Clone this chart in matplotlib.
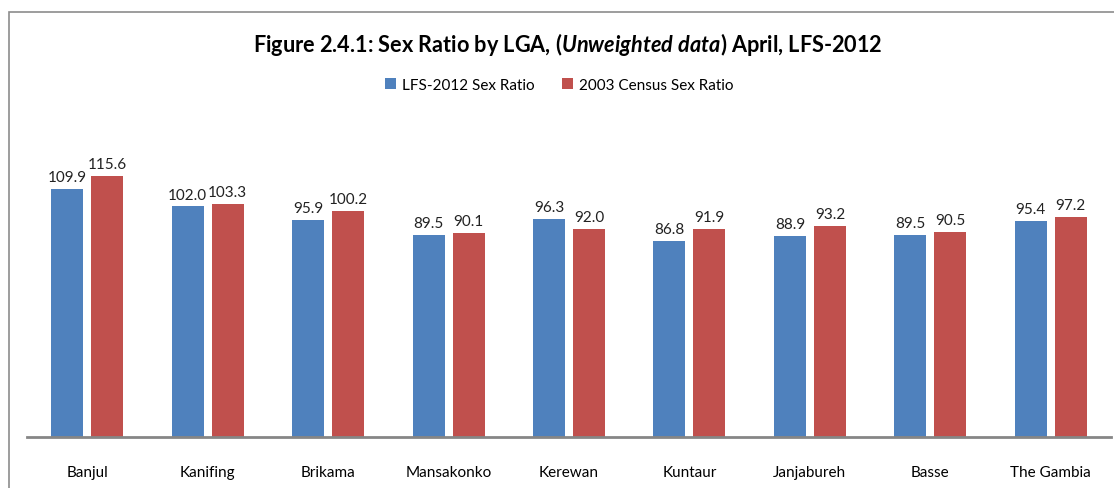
import matplotlib.pyplot as plt
import numpy as np
from matplotlib.patches import Rectangle

# Sex ratio by LGA
lgas = ["Banjul", "Kanifing", "Brikama", "Mansakonko", "Kerewan",
        "Kuntaur", "Janjabureh", "Basse", "The Gambia"]
lfs_2012 = [109.9, 102.0, 95.9, 89.5, 96.3, 86.8, 88.9, 89.5, 95.4]
census_2003 = [115.6, 103.3, 100.2, 90.1, 92.0, 91.9, 93.2, 90.5, 97.2]
series_names = ["LFS-2012 Sex Ratio", "2003 Census Sex Ratio"]

plt.rcParams['font.family'] = ['Lato', 'DejaVu Sans']
plt.rcParams['mathtext.fontset'] = 'custom'
plt.rcParams['mathtext.it'] = 'Lato:italic:bold'
plt.rcParams['mathtext.rm'] = 'Lato:bold'

W, H = 1114, 489
fig = plt.figure(figsize=(W / 100, H / 100), dpi=100)

# outer chart frame (cut off on the right and bottom like the reference)
fig.patches.append(Rectangle((9 / W, -0.1), 1.2, 1 - 13 / H + 0.1,
                             transform=fig.transFigure, fill=False,
                             edgecolor="#8c8c8c", linewidth=1.2))

ax = fig.add_axes([27 / W, 1 - 438 / H, (1111 - 27) / W, (438 - 100) / H])

x = np.arange(len(lgas))
w = 0.266
off = 0.166
b1 = ax.bar(x - off, lfs_2012, w, color="#4F81BD", label=series_names[0])
b2 = ax.bar(x + off, census_2003, w, color="#C0504D", label=series_names[1])

for bars, vals in ((b1, lfs_2012), (b2, census_2003)):
    for rect, v in zip(bars, vals):
        ax.text(rect.get_x() + rect.get_width() / 2, v + 2.2, f"{v:.1f}",
                ha="center", va="bottom", fontsize=11, color="#222222")

ax.set_xlim(-0.5, len(lgas) - 0.5)
ax.set_ylim(0, (438 - 100) / 2.26)
ax.set_xticks(x)
ax.set_xticklabels(lgas, fontsize=11)
ax.tick_params(axis="x", length=0, pad=20)
ax.set_yticks([])
for s in ["top", "right", "left"]:
    ax.spines[s].set_visible(False)
ax.spines["bottom"].set_color("#868686")
ax.spines["bottom"].set_linewidth(2)

fig.text(0.51, 1 - 44 / H,
         r"Figure 2.4.1: Sex Ratio by LGA, ($\it{Unweighted\ data}$) April, LFS-2012",
         ha="center", va="center", fontsize=15.6, fontweight="bold")

fig.legend(handles=[b1, b2], loc="center", bbox_to_anchor=(0.502, 1 - 86 / H),
           ncol=2, frameon=False, fontsize=11, handlelength=0.7,
           handleheight=0.7, handletextpad=0.4, columnspacing=1.8)

fig.savefig("out.png", dpi=100)
